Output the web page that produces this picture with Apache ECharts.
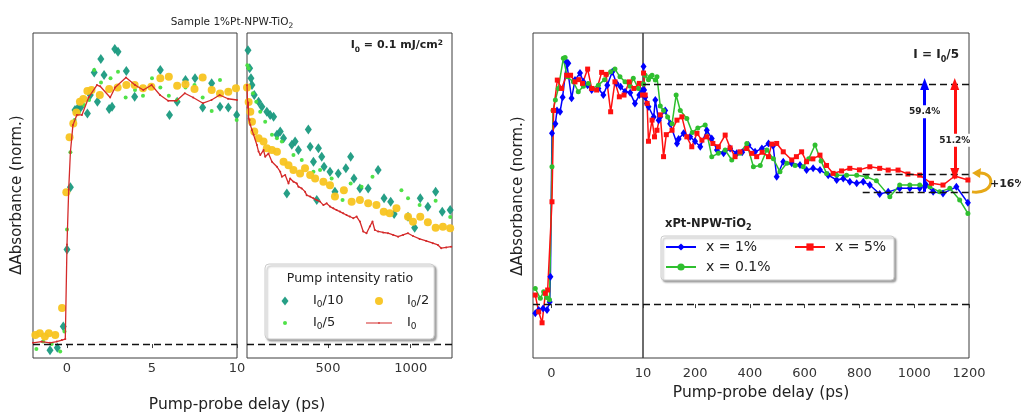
<!DOCTYPE html>
<html>
<head>
<meta charset="utf-8">
<script src="https://cdn.jsdelivr.net/npm/echarts@6/dist/echarts.min.js"></script>
<style>
  html, body { margin: 0; padding: 0; background: #fff; }
  #chart { width: 1021px; height: 412px; }
</style>
</head>
<body>
<div id="chart"></div>
<script>
// tick labels
const tickFast = [0, 5, 10]
const tickSlow = [500, 1000]
const tickRightFast = [0, 10]
const tickRightSlow = [200, 400, 600, 800, 1000, 1200]

// legend names
const pumpNames = ['I0/10', 'I0/2', 'I0/5', 'I0']
const sampleNames = ['x = 1%', 'x = 5%', 'x = 0.1%']

// left figure (sample 1%Pt), early delays, ps -> normalised dA
const i10Fast = [[-1.0,-0.025],[-0.57,-0.015],[-0.22,0.07],[0,0.38],[0.2,0.63],[0.47,0.94],[0.62,0.946],[0.8,0.95],[1.2,0.926],[1.37,1.0],[1.6,1.09],[1.79,0.973],[1.99,1.145],[2.18,1.08],[2.48,0.944],[2.65,0.953],[2.81,1.185],[3.0,1.174],[3.49,1.096],[3.98,0.993],[5.49,1.1],[6.03,0.92],[6.48,0.973],[6.97,1.06],[7.53,1.067],[7.98,0.95],[8.51,1.047],[9.0,0.953],[9.49,0.95],[9.98,0.92]]
const i2Fast = [[-1.86,0.036],[-1.6,0.043],[-1.3,0.03],[-1.07,0.043],[-0.69,0.036],[-0.29,0.145],[-0.04,0.61],[0.15,0.83],[0.37,0.886],[0.55,0.93],[0.76,0.973],[0.96,0.984],[1.2,1.016],[1.44,1.02],[1.93,1.0],[2.48,1.024],[2.98,1.03],[3.49,1.04],[3.98,1.04],[4.47,1.027],[4.96,1.033],[5.49,1.067],[5.99,1.073],[6.48,1.037],[6.97,1.043],[7.5,1.024],[7.98,1.07],[8.51,1.02],[9.0,1.006],[9.49,1.013],[9.94,1.027]]
const i5Fast = [[-1.8,-0.02],[-1.4,0.01],[-0.9,0.0],[-0.4,-0.03],[-0.15,0.05],[0.0,0.46],[0.2,0.77],[0.45,0.9],[0.7,0.93],[1.0,0.96],[1.3,0.98],[1.6,1.1],[2.0,1.05],[2.56,1.067],[3.0,1.093],[3.45,0.99],[4.0,1.02],[4.47,0.997],[5.0,1.067],[5.49,1.03],[5.99,0.997],[6.48,0.98],[6.97,1.03],[7.5,1.04],[7.98,0.99],[8.51,0.936],[9.0,1.06],[9.49,1.02],[9.98,0.9]]
const i0Fast = [[-2,0.005],[-1.5,0.01],[-1,0.005],[-0.6,0.01],[-0.3,0.016],[-0.1,0.02],[0.0,0.4],[0.1,0.62],[0.2,0.77],[0.35,0.88],[0.58,0.92],[0.88,0.92],[1.27,0.99],[1.76,1.04],[1.95,1.035],[2.54,0.99],[2.83,1.03],[3.47,1.07],[4.0,1.04],[4.49,1.02],[4.98,1.04],[5.47,1.0],[5.95,0.977],[6.44,0.977],[6.93,1.007],[7.42,0.99],[8.0,0.967],[8.5,0.98],[8.98,1.0],[9.47,0.985],[10,0.98]]

// left figure, long delays
const i10Slow = [[16,1.18],[26,1.107],[34,1.067],[40,1.04],[54,1.0],[80,0.973],[100,0.953],[130,0.933],[150,0.92],[171,0.913],[191,0.84],[211,0.853],[231,0.826],[251,0.605],[281,0.8],[301,0.813],[321,0.779],[381,0.862],[392,0.792],[412,0.732],[432,0.578],[442,0.786],[462,0.752],[476,0.712],[512,0.692],[542,0.612],[562,0.685],[608,0.706],[637,0.752],[657,0.665],[693,0.625],[743,0.625],[803,0.699],[839,0.585],[879,0.571],[900,0.522],[984,0.511],[1024,0.467],[1058,0.585],[1104,0.551],[1151,0.612],[1191,0.531],[1239,0.538]]
const i2Slow = [[10,1.03],[20,0.972],[30,0.933],[40,0.893],[54,0.853],[80,0.826],[110,0.813],[130,0.786],[161,0.779],[191,0.772],[231,0.732],[261,0.718],[291,0.699],[331,0.685],[361,0.706],[392,0.679],[422,0.665],[472,0.652],[512,0.638],[542,0.592],[596,0.618],[643,0.571],[693,0.578],[743,0.565],[793,0.558],[837,0.531],[873,0.525],[914,0.545],[984,0.511],[1014,0.491],[1058,0.511],[1104,0.489],[1151,0.467],[1195,0.471],[1239,0.465]]
const i5Slow = [[12,1.12],[20,1.107],[46,1.007],[66,0.973],[90,0.933],[120,0.893],[161,0.84],[191,0.826],[221,0.813],[291,0.759],[341,0.739],[412,0.692],[452,0.699],[522,0.665],[588,0.578],[637,0.645],[703,0.632],[769,0.672],[944,0.618],[984,0.585],[1054,0.558],[1151,0.575],[1239,0.51]]
const i0Slow = [[10,1.04],[14,0.95],[18,0.97],[20,0.906],[26,0.9],[30,0.88],[40,0.86],[50,0.84],[70,0.799],[80,0.773],[90,0.759],[110,0.779],[120,0.752],[140,0.765],[161,0.732],[191,0.712],[211,0.692],[221,0.672],[241,0.679],[261,0.645],[271,0.665],[291,0.652],[311,0.645],[321,0.632],[341,0.625],[361,0.612],[371,0.598],[392,0.592],[412,0.585],[432,0.578],[452,0.572],[472,0.558],[492,0.565],[512,0.552],[532,0.545],[552,0.538],[572,0.532],[592,0.525],[612,0.518],[632,0.512],[653,0.505],[673,0.512],[693,0.492],[713,0.452],[733,0.445],[753,0.472],[769,0.492],[783,0.458],[803,0.452],[833,0.448],[863,0.445],[894,0.438],[924,0.431],[954,0.438],[984,0.445],[1014,0.434],[1054,0.422],[1094,0.414],[1134,0.405],[1165,0.398],[1185,0.385],[1215,0.388],[1245,0.391]]

// right figure (xPt-NPW-TiO2, I = I0/5), early delays
const pt1Fast = [[-1.75,-0.042],[-1.38,-0.027],[-0.9,-0.02],[-0.47,-0.027],[-0.18,0.01],[-0.1,0.124],[0.07,0.776],[0.44,0.82],[0.62,0.88],[0.95,0.874],[1.23,0.94],[1.67,1.1],[1.85,1.094],[2.21,0.935],[2.58,1.018],[3.13,1.05],[3.49,1.01],[3.96,0.995],[4.4,0.973],[5.13,0.98],[5.67,0.95],[6.1,0.995],[6.65,1.056],[7.12,1.003],[7.56,0.988],[8.04,0.965],[8.6,0.96],[9.12,0.912],[9.6,0.95],[9.9,0.97]]
const pt01Fast = [[-1.75,0.071],[-1.2,0.026],[-0.84,0.056],[-0.5,0.03],[-0.2,0.02],[0.07,0.624],[0.18,0.88],[0.44,0.927],[0.76,0.98],[1.31,1.117],[1.5,1.121],[1.74,1.033],[2.4,1.01],[2.94,0.965],[3.5,0.99],[4.03,1.003],[4.5,0.98],[5.13,0.995],[5.8,1.02],[6.47,1.056],[6.94,1.068],[7.49,1.033],[8.04,1.01],[8.6,0.99],[8.94,1.026],[9.5,0.98],[9.96,0.95]]
const pt5Fast = [[-1.75,0.041],[-1.38,-0.035],[-1.01,-0.085],[-0.65,0.049],[-0.4,0.064],[0.07,0.465],[0.25,0.88],[0.65,1.018],[1.12,0.98],[1.67,1.04],[2.1,1.04],[2.58,1.01],[3.0,1.02],[3.4,1.003],[3.96,1.068],[4.4,0.98],[4.94,0.973],[5.49,1.053],[5.97,1.044],[6.47,0.874],[6.94,1.01],[7.42,0.942],[7.93,0.95],[8.5,1.01],[9.0,0.98],[9.6,1.003],[9.95,0.95]]

// right figure, long delays
const pt1Slow = [[12,1.08],[14,0.973],[18,0.94],[24,0.912],[30,0.897],[49,0.85],[55,0.927],[67,0.836],[73,0.851],[91,0.88],[109,0.82],[134,0.73],[140,0.75],[158,0.776],[182,0.76],[200,0.74],[219,0.715],[243,0.79],[261,0.753],[280,0.7],[304,0.685],[328,0.707],[352,0.685],[372,0.69],[395,0.723],[419,0.692],[444,0.707],[468,0.73],[485,0.72],[498,0.579],[522,0.647],[553,0.64],[583,0.632],[607,0.609],[631,0.617],[656,0.609],[686,0.586],[717,0.564],[741,0.571],[765,0.556],[790,0.549],[814,0.556],[838,0.541],[874,0.5],[905,0.51],[947,0.526],[984,0.526],[1020,0.526],[1044,0.541],[1069,0.51],[1105,0.503],[1154,0.533],[1196,0.46]]
const pt01Slow = [[12,1.0],[18,1.04],[30,1.02],[37,1.033],[43,1.04],[55,1.018],[61,1.033],[73,0.9],[85,0.88],[100,0.85],[116,0.82],[131,0.95],[146,0.88],[170,0.844],[190,0.78],[210,0.8],[237,0.814],[261,0.67],[285,0.685],[310,0.7],[334,0.655],[364,0.685],[389,0.73],[413,0.624],[438,0.63],[462,0.7],[486,0.66],[510,0.601],[535,0.64],[565,0.63],[595,0.624],[615,0.66],[638,0.723],[660,0.65],[680,0.594],[717,0.586],[753,0.586],[790,0.586],[826,0.579],[862,0.56],[911,0.488],[947,0.541],[984,0.541],[1020,0.541],[1057,0.533],[1093,0.51],[1130,0.526],[1166,0.473],[1196,0.412]]
const pt5Slow = [[12,1.05],[18,0.95],[25,0.912],[30,0.74],[43,0.836],[52,0.76],[61,0.79],[73,0.86],[85,0.67],[95,0.77],[116,0.79],[134,0.836],[152,0.851],[170,0.76],[188,0.715],[207,0.776],[225,0.745],[243,0.76],[265,0.73],[285,0.715],[310,0.768],[328,0.71],[346,0.67],[364,0.692],[389,0.707],[407,0.685],[425,0.67],[445,0.69],[468,0.67],[480,0.727],[498,0.73],[522,0.692],[553,0.655],[570,0.67],[589,0.692],[607,0.647],[630,0.66],[656,0.677],[680,0.63],[704,0.594],[735,0.605],[765,0.617],[800,0.61],[838,0.624],[874,0.617],[905,0.609],[941,0.609],[977,0.591],[1020,0.586],[1063,0.549],[1105,0.541],[1148,0.582],[1196,0.564]]

// annotation values on the right figure
const refLevels = [1.0, 0.591, 0.51]   // start level, 5% end level, 1% end level
const shortLineFrom = 812
const arrowX = [1038, 1148]
const arrowLabels = ['59.4%', '51.2%']
const arrowLabelY = [0.874, 0.745]

const FONT = 'DejaVu Sans'
const col = {
  teal: '#1a9a80', gold: '#f8c420', lime: '#47e03e', red: '#d42a2a',
  blue: '#0000ff', red2: '#ff1010', green: '#2fbf2f', frame: '#3c3c3c'
}

const chart = echarts.init(document.getElementById('chart'))

const grids = [
  { left: 33, top: 33, width: 204, height: 325 },
  { left: 247, top: 33, width: 205, height: 325 },
  { left: 533, top: 33, width: 110, height: 325 },
  { left: 643, top: 33, width: 326, height: 325 }
].map(g => ({ ...g, show: true, borderColor: col.frame, borderWidth: 1, outerBoundsMode: 'none', containLabel: false }))

const xAxis = (gi, min, max, ticks, margin) => ({
  type: 'value', gridIndex: gi, min, max,
  axisLine: { show: false },
  axisTick: { show: true, customValues: ticks, length: 4, lineStyle: { color: col.frame } },
  axisLabel: {
    customValues: ticks, fontSize: 13, color: '#333', margin, fontFamily: FONT,
    showMinLabel: true, showMaxLabel: true, formatter: v => String(v)
  },
  splitLine: { show: false }
})
const yAxis = (gi, min, max) => ({ type: 'value', gridIndex: gi, min, max, show: false, splitLine: { show: false } })

const dashed = { color: '#111', type: [7, 4], width: 1.4 }

const scatter = (name, data, gi, symbol, size, color) => ({
  name, type: 'scatter', data, xAxisIndex: gi, yAxisIndex: gi,
  symbol, symbolSize: size, itemStyle: { color, opacity: 0.95 }
})
const redLine = (data, gi) => ({
  name: 'I0', type: 'line', data, xAxisIndex: gi, yAxisIndex: gi,
  symbol: 'circle', symbolSize: 2, showSymbol: true,
  lineStyle: { color: col.red, width: 1.3 }, itemStyle: { color: col.red },
  markLine: { silent: true, symbol: 'none', label: { show: false }, lineStyle: dashed, data: [{ yAxis: 0 }] }
})
const sampleLine = (name, data, gi, symbol, size, color) => ({
  name, type: 'line', data, xAxisIndex: gi, yAxisIndex: gi,
  symbol, symbolSize: size, showSymbol: true,
  lineStyle: { color, width: 1.5 }, itemStyle: { color }
})

const arrowStyle = c => ({ color: c, width: 3, type: 'solid' })

const series = [
  scatter('I0/10', i10Fast, 0, 'diamond', [7, 10], col.teal),
  scatter('I0/5', i5Fast, 0, 'circle', 4, col.lime),
  scatter('I0/2', i2Fast, 0, 'circle', 8, col.gold),
  redLine(i0Fast, 0),
  scatter('I0/10', i10Slow, 1, 'diamond', [7, 10], col.teal),
  scatter('I0/5', i5Slow, 1, 'circle', 4, col.lime),
  scatter('I0/2', i2Slow, 1, 'circle', 8, col.gold),
  redLine(i0Slow, 1),

  sampleLine('x = 1%', pt1Fast, 2, 'diamond', [6, 8], col.blue),
  sampleLine('x = 0.1%', pt01Fast, 2, 'circle', 5, col.green),
  { ...sampleLine('x = 5%', pt5Fast, 2, 'rect', 5, col.red2),
    markLine: { silent: true, symbol: 'none', label: { show: false }, lineStyle: dashed, data: [{ yAxis: 0 }] } },
  sampleLine('x = 1%', pt1Slow, 3, 'diamond', [6, 8], col.blue),
  sampleLine('x = 0.1%', pt01Slow, 3, 'circle', 5, col.green),
  { ...sampleLine('x = 5%', pt5Slow, 3, 'rect', 5, col.red2),
    markLine: {
      silent: true, symbol: 'none', label: { show: false }, lineStyle: dashed,
      data: [
        { yAxis: 0 },
        { yAxis: refLevels[0] },
        [{ coord: [shortLineFrom, refLevels[1]] }, { coord: [tickRightSlow[5], refLevels[1]] }],
        [{ coord: [shortLineFrom, refLevels[2]] }, { coord: [tickRightSlow[5], refLevels[2]] }],
        [{ coord: [arrowX[0], refLevels[2]], symbol: 'none', lineStyle: arrowStyle(col.blue) },
         { coord: [arrowX[0], refLevels[0]], symbol: 'triangle', symbolSize: [9, 12], lineStyle: arrowStyle(col.blue) }],
        [{ coord: [arrowX[1], refLevels[1]], symbol: 'triangle', symbolSize: [9, 12], lineStyle: arrowStyle(col.red2) },
         { coord: [arrowX[1], refLevels[0]], symbol: 'triangle', symbolSize: [9, 12], lineStyle: arrowStyle(col.red2) }]
      ]
    } }
]

const subRich = {
  s: { fontSize: 9, lineHeight: 10, verticalAlign: 'top', padding: [7, 0, 0, 0], fontFamily: FONT, color: '#222' }
}

// small padded path icons so legend markers keep the plotted size
const iconDiamond = 'path://M0,0M26,14M13,2.5L16.5,7L13,11.5L9.5,7Z'
const iconGold = 'path://M0,0M26,14M17,7A4,4 0 1 1 9,7A4,4 0 1 1 17,7Z'
const iconLime = 'path://M0,0M26,14M15,7A2,2 0 1 1 11,7A2,2 0 1 1 15,7Z'
const iconRedLine = 'path://M0,0M26,14M0,6.4L26,6.4L26,7.6L0,7.6ZM14,7A1,1 0 1 1 12,7A1,1 0 1 1 14,7Z'

const legendShadow = { shadowColor: 'rgba(0,0,0,0.35)', shadowBlur: 2, shadowOffsetX: 2, shadowOffsetY: 2 }

const option = {
  animation: false,
  backgroundColor: '#fff',
  textStyle: { fontFamily: FONT },
  grid: grids,
  xAxis: [
    xAxis(0, -2, 10, tickFast, 4),
    xAxis(1, 10, 1250, tickSlow, 4),
    xAxis(2, -2, 10, tickRightFast, 9),
    xAxis(3, 10, 1200, tickRightSlow, 9)
  ],
  yAxis: [
    yAxis(0, -0.056, 1.249), yAxis(1, -0.056, 1.249),
    yAxis(2, -0.245, 1.232), yAxis(3, -0.245, 1.232)
  ],
  legend: [
    {
      left: 265, top: 264, width: 165, orient: 'horizontal',
      padding: [29, 5, 8, 7], itemGap: 6, itemWidth: 26, itemHeight: 14,
      backgroundColor: '#fff', borderColor: '#cccccc', borderWidth: 1, borderRadius: 4, ...legendShadow,
      selectedMode: false,
      data: [
        { name: pumpNames[0], icon: iconDiamond, textStyle: { width: 47 } },
        { name: pumpNames[1], icon: iconGold, textStyle: { width: 22 } },
        { name: pumpNames[2], icon: iconLime, textStyle: { width: 47 } },
        { name: pumpNames[3], icon: iconRedLine, textStyle: { width: 22 } }
      ],
      formatter: n => n.replace('I0', 'I{s|0}'),
      textStyle: { fontSize: 13, lineHeight: 16, color: '#222', padding: [0, 0, 0, 10], rich: subRich }
    },
    {
      left: 661, top: 236, width: 230, orient: 'horizontal',
      padding: [3, 7, 5, 4], itemGap: 4, itemWidth: 30, itemHeight: 9,
      backgroundColor: '#fff', borderColor: '#cccccc', borderWidth: 1, borderRadius: 3, ...legendShadow,
      selectedMode: false,
      data: [
        { name: sampleNames[0], textStyle: { width: 84 } },
        { name: sampleNames[1], textStyle: { width: 52 } },
        { name: sampleNames[2], textStyle: { width: 84 } }
      ],
      textStyle: { fontSize: 14, lineHeight: 16, color: '#222', padding: [0, 0, 0, 5] }
    }
  ],
  series
}

chart.setOption(option)

// annotations placed from data values
const toPx = (x, y) => chart.convertToPixel({ gridIndex: 3 }, [x, y])
const pTop = toPx(tickRightSlow[5], refLevels[1])
const pBot = toPx(tickRightSlow[5], refLevels[2])
const lbl1 = toPx(arrowX[0], arrowLabelY[0])
const lbl2 = toPx(arrowX[1], arrowLabelY[1])

const txt = (x, y, text, extra) => ({
  type: 'text', x, y, z: 20,
  style: Object.assign({ text, fill: '#222', fontFamily: FONT, fontSize: 13, align: 'center', verticalAlign: 'middle' }, extra)
})

const arcX = pTop[0] + 3
chart.setOption({
  graphic: {
    elements: [
      txt(232, 22, 'Sample 1%Pt-NPW-TiO{s|2}', {
        fontSize: 10.5, rich: { s: { fontSize: 7.5, lineHeight: 8, verticalAlign: 'top', padding: [6, 0, 0, 0], fontFamily: FONT, fill: '#222' } }
      }),
      txt(443, 45, 'I{s|0} = 0.1 mJ/cm{p|2}', {
        align: 'right', fontSize: 11, fontWeight: 'bold',
        rich: {
          s: { fontSize: 7.5, lineHeight: 8, verticalAlign: 'top', padding: [7, 0, 0, 0], fontWeight: 'bold', fontFamily: FONT },
          p: { fontSize: 7.5, lineHeight: 8, verticalAlign: 'top', padding: [0, 0, 6, 0], fontWeight: 'bold', fontFamily: FONT }
        }
      }),
      txt(959, 55, 'I = I{s|0}/5', {
        align: 'right', fontSize: 12, fontWeight: 'bold',
        rich: { s: { fontSize: 8, lineHeight: 9, verticalAlign: 'top', padding: [7, 0, 0, 0], fontWeight: 'bold', fontFamily: FONT } }
      }),
      { ...txt(17, 195, 'ΔAbsorbance (norm.)', { fontSize: 15 }), rotation: Math.PI / 2 },
      { ...txt(518, 196, 'ΔAbsorbance (norm.)', { fontSize: 15 }), rotation: Math.PI / 2 },
      txt(237, 405, 'Pump-probe delay (ps)', { fontSize: 15.5 }),
      txt(761, 393, 'Pump-probe delay (ps)', { fontSize: 15.5 }),
      txt(350, 279, 'Pump intensity ratio', { fontSize: 12.5 }),
      txt(665, 224, 'xPt-NPW-TiO{s|2}', {
        align: 'left', fontSize: 11.5, fontWeight: 'bold',
        rich: { s: { fontSize: 8, lineHeight: 9, verticalAlign: 'top', padding: [6, 0, 0, 0], fontWeight: 'bold', fontFamily: FONT } }
      }),
      txt(lbl1[0], lbl1[1], arrowLabels[0], { fontSize: 9, fontWeight: 'bold', backgroundColor: '#fff', padding: [2, 1] }),
      txt(lbl2[0], lbl2[1], arrowLabels[1], { fontSize: 9, fontWeight: 'bold', backgroundColor: '#fff', padding: [2, 1] }),
      {
        type: 'bezierCurve', z: 20,
        shape: { x1: arcX + 6, y1: pTop[1] - 1, cpx1: arcX + 24, cpy1: pTop[1] - 3, cpx2: arcX + 24, cpy2: pBot[1] + 3, x2: arcX, y2: pBot[1] },
        style: { stroke: '#e6a817', lineWidth: 3, fill: null }
      },
      {
        type: 'polygon', z: 20,
        shape: { points: [[arcX, pTop[1] - 1], [arcX + 9, pTop[1] - 6], [arcX + 8, pTop[1] + 4]] },
        style: { fill: '#e6a817' }
      },
      txt(arcX + 18, (pTop[1] + pBot[1]) / 2 + 1, '+16%', { align: 'left', fontSize: 11, fontWeight: 'bold' })
    ]
  }
})
</script>
</body>
</html>
